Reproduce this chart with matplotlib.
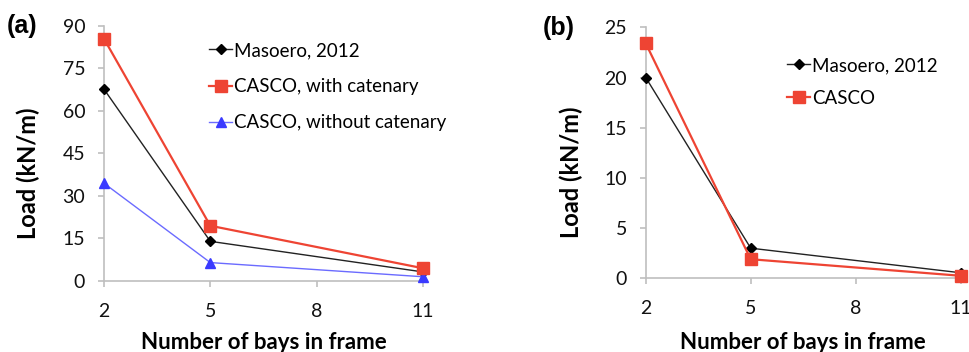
import matplotlib
matplotlib.use("Agg")
import matplotlib.pyplot as plt

bays = [2, 5, 11]
masoero_a = [67.7, 14.0, 3.2]
casco_with = [85.5, 19.5, 4.5]
casco_without = [34.5, 6.5, 1.5]

masoero_b = [20.0, 3.0, 0.55]
casco_b = [23.4, 1.9, 0.25]

xticks = [2, 5, 8, 11]
yticks_a = [0, 15, 30, 45, 60, 75, 90]
yticks_b = [0, 5, 10, 15, 20, 25]

FONT = "Lato"
RED = "#ee4433"
BLUE = "#3a3aff"
GRAY = "#bfbfbf"

fig = plt.figure(figsize=(9.69, 3.52), dpi=100)
axa = fig.add_axes([0.1073, 0.2017, 0.3292, 0.7245])
axb = fig.add_axes([0.6664, 0.2094, 0.3250, 0.7130])


def style(ax, yticks, ymax):
    ax.set_xlim(2, 11)
    ax.set_ylim(0, ymax)
    ax.set_xticks(xticks)
    ax.set_yticks(yticks)
    for s in ["top", "right"]:
        ax.spines[s].set_visible(False)
    for s in ["left", "bottom"]:
        ax.spines[s].set_color(GRAY)
        ax.spines[s].set_linewidth(1.2)
    ax.tick_params(axis="both", colors=GRAY, length=4.5, width=1.2, direction="out",
                   labelsize=14, labelcolor="#111111")
    ax.tick_params(axis="x", pad=11)
    ax.tick_params(axis="y", pad=9)
    for lab in ax.get_xticklabels() + ax.get_yticklabels():
        lab.set_fontfamily(FONT)
    ax.set_xlabel("Number of bays in frame", fontfamily=FONT, fontweight="bold",
                  fontsize=16)
    ax.xaxis.label.set_va("baseline")
    ax.set_ylabel("Load (kN/m)", fontfamily=FONT, fontweight="bold", fontsize=17)
    ax.yaxis.label.set_va("center")


axa.plot(bays, masoero_a, color="#222222", lw=1.0, marker="D", ms=5.5,
         mfc="black", mec="black", label="Masoero, 2012", clip_on=False, zorder=3)
axa.plot(bays, casco_with, color=RED, lw=1.6, marker="s", ms=8.5,
         mfc=RED, mec=RED, label="CASCO, with catenary", clip_on=False, zorder=4)
axa.plot(bays, casco_without, color="#6b6bff", lw=1.0, marker="^", ms=7,
         mfc=BLUE, mec=BLUE, label="CASCO, without catenary", clip_on=False, zorder=3)
style(axa, yticks_a, 90)
axa.xaxis.set_label_coords(0.5, -0.267)
axa.yaxis.set_label_coords(-0.238, 0.424)
axa.legend(loc="upper left", bbox_to_anchor=(0.329, 0.937), frameon=False,
           prop={"family": FONT, "size": 13.5}, handlelength=1.25,
           handletextpad=0.1, labelspacing=1.02, borderaxespad=0, borderpad=0)

axb.plot(bays, masoero_b, color="#222222", lw=1.0, marker="D", ms=5.5,
         mfc="black", mec="black", label="Masoero, 2012", clip_on=False, zorder=3)
axb.plot(bays, casco_b, color=RED, lw=1.6, marker="s", ms=8.5,
         mfc=RED, mec=RED, label="CASCO", clip_on=False, zorder=4)
style(axb, yticks_b, 25)
axb.xaxis.set_label_coords(0.5, -0.28)
axb.yaxis.set_label_coords(-0.237, 0.424)
axb.legend(loc="upper left", bbox_to_anchor=(0.4486, 0.882), frameon=False,
           prop={"family": FONT, "size": 13.5}, handlelength=1.25,
           handletextpad=0.1, labelspacing=0.84, borderaxespad=0, borderpad=0)

fig.text(0.0072, 0.925, "(a)", fontfamily="Liberation Sans", fontweight="bold",
         fontsize=18, va="center", ha="left")
fig.text(0.560, 0.92, "(b)", fontfamily="Liberation Sans", fontweight="bold",
         fontsize=18, va="center", ha="left")

fig.savefig("out.png", dpi=100)
